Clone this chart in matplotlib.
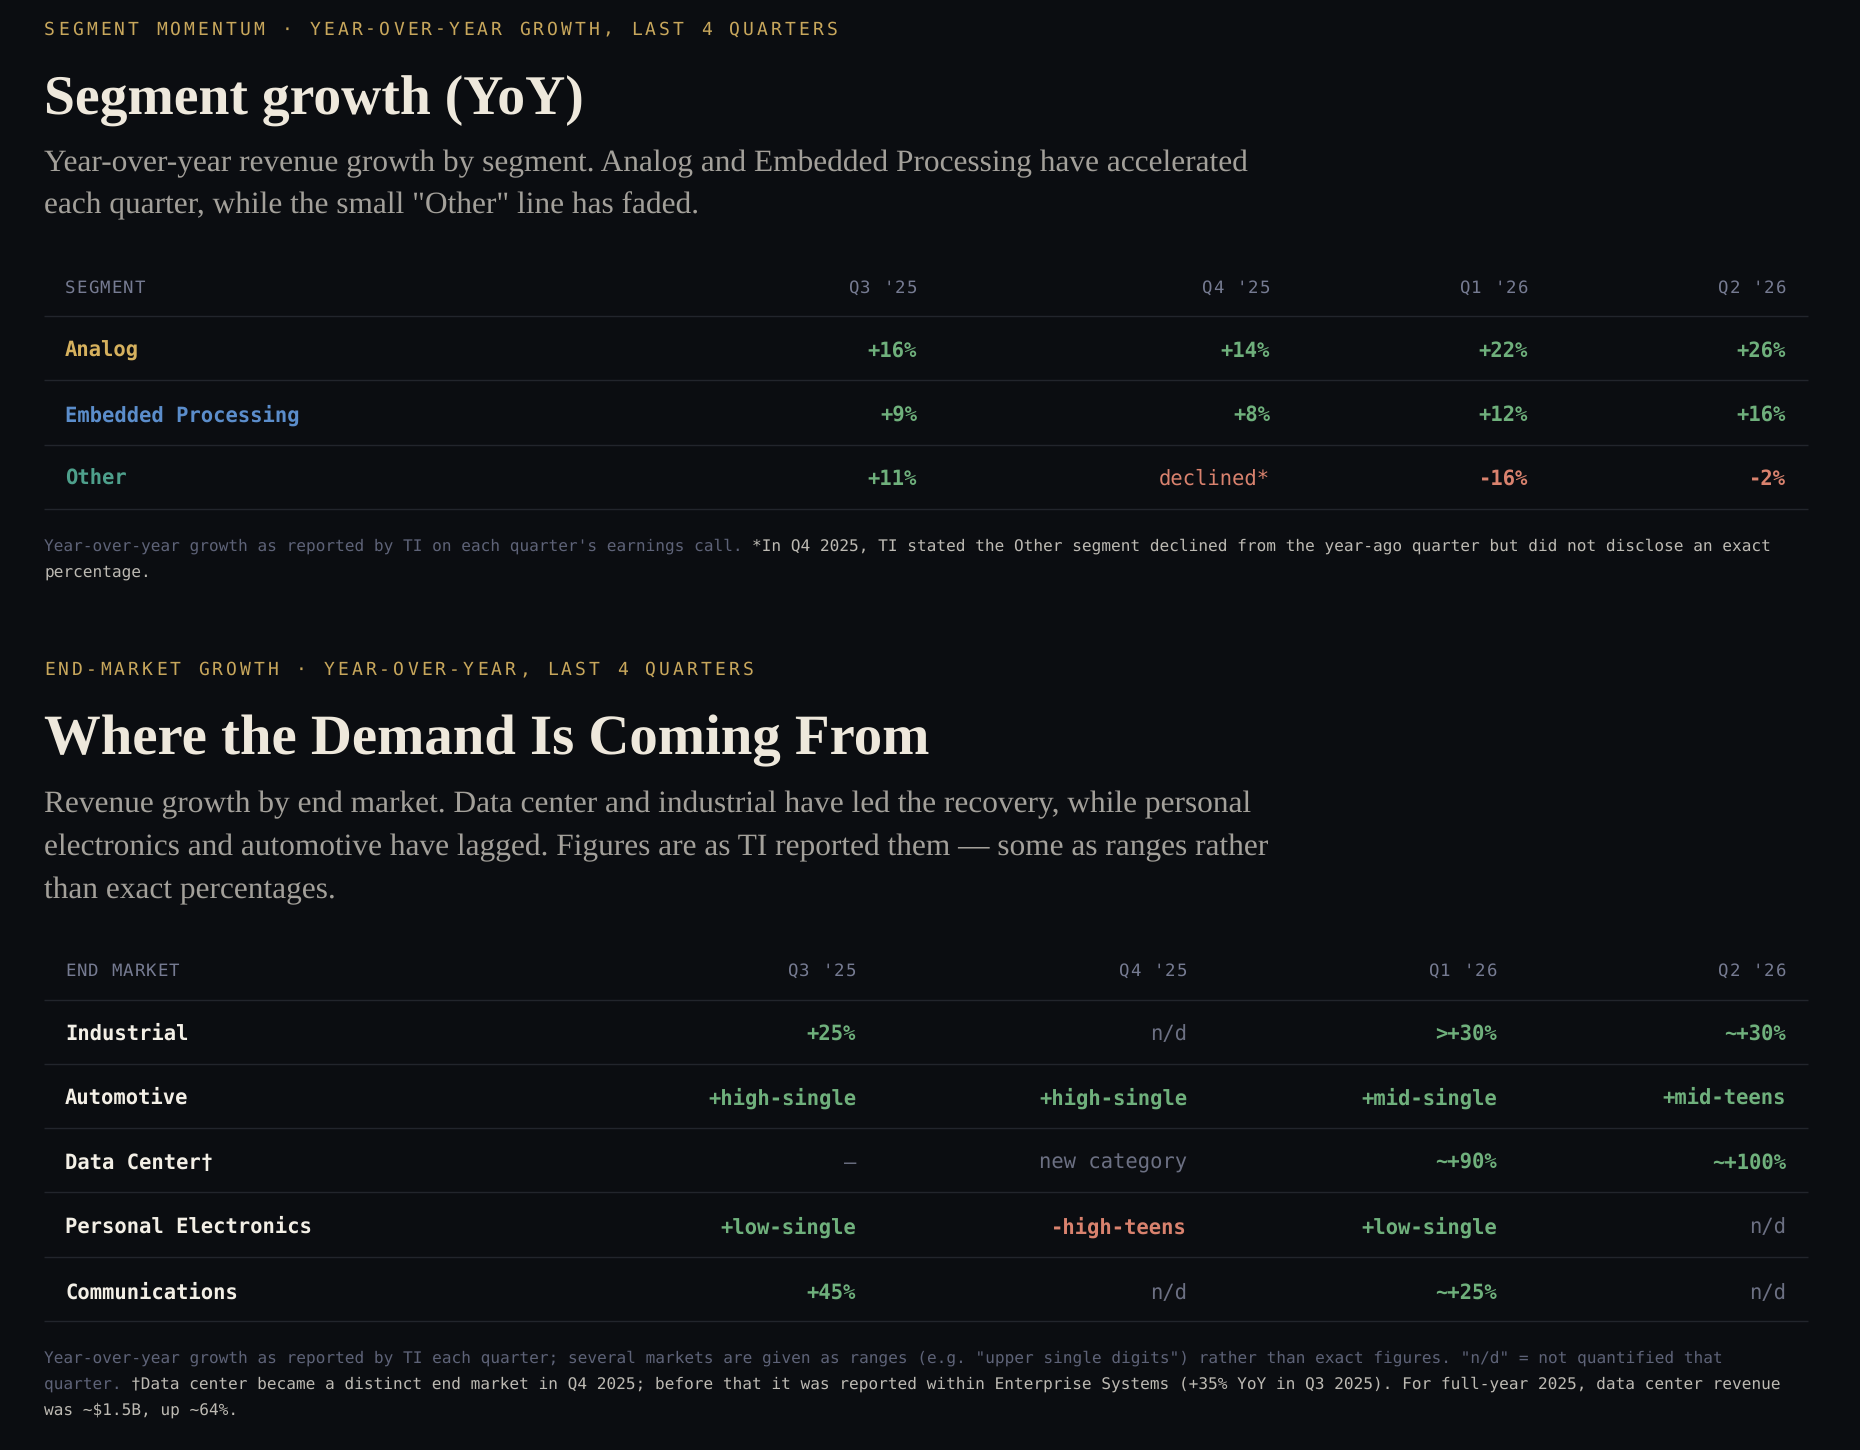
import matplotlib
matplotlib.use("Agg")
import matplotlib.pyplot as plt

# unhinted glyphs keep the monospace advance exact, so mixed-colour lines join up
plt.rcParams["text.hinting"] = "no_hinting"

W, H, DPI = 1860, 1450, 100
BG = "#0b0d11"
GOLD = "#c8a75c"
TITLE_C = "#eee8dc"
SUB_C = "#a3a09a"
HEAD_C = "#767b92"
LINE_C = "#22252c"
GREEN = "#6fb07c"
RED = "#d9826e"
MUTED = "#6c7083"
NOTE_C = "#5e6378"
NOTE_LIGHT = "#bdbab3"
WHITE = "#f3efe6"

MONO = "DejaVu Sans Mono"
SERIF = "Liberation Serif"

# ---- data ----
quarters = ["Q3 '25", "Q4 '25", "Q1 '26", "Q2 '26"]

segments = ["Analog", "Embedded Processing", "Other"]
segment_colors = ["#d6b15e", "#5b8dcb", "#4ea08c"]
analog = ["+16%", "+14%", "+22%", "+26%"]
embedded = ["+9%", "+8%", "+12%", "+16%"]
other = ["+11%", "declined*", "-16%", "-2%"]

markets = ["Industrial", "Automotive", "Data Center\u2020", "Personal Electronics", "Communications"]
industrial = ["+25%", "n/d", ">+30%", "~+30%"]
automotive = ["+high-single", "+high-single", "+mid-single", "+mid-teens"]
data_center = ["\u2014", "new category", "~+90%", "~+100%"]
personal = ["+low-single", "-high-teens", "+low-single", "n/d"]
comms = ["+45%", "n/d", "~+25%", "n/d"]

fig = plt.figure(figsize=(W / DPI, H / DPI), dpi=DPI)
fig.patch.set_facecolor(BG)
ax = fig.add_axes([0, 0, 1, 1])
ax.set_facecolor(BG)
ax.set_xlim(0, W)
ax.set_ylim(H, 0)
ax.axis("off")
renderer = fig.canvas.get_renderer()


def adv(size):
    return size / 72 * DPI * 0.60205


def spaced(x, y, s, size, color, spacing, ha="left", weight="normal"):
    a = adv(size) + spacing
    total = a * len(s) - spacing
    if ha == "right":
        x = x - total
    for i, ch in enumerate(s):
        ax.text(x + i * a + adv(size) / 2, y, ch, fontsize=size, color=color,
                family=MONO, weight=weight, ha="center", va="center")


def fitted(x, y, s, target, size, **kw):
    t = ax.text(x, y, s, fontsize=size, **kw)
    bb = t.get_window_extent(renderer)
    size = size * target / bb.width
    t.set_fontsize(size)
    return size


def note_line(x, y, parts, size):
    for s, c in parts:
        ax.text(x, y, s, fontsize=size, color=c, family=MONO, ha="left", va="center")
        x += adv(size) * len(s)


def cell_style(v):
    if v[0] in "+>~":
        return GREEN, "bold"
    if v.startswith("-"):
        return RED, "bold"
    if v.startswith("declined"):
        return RED, "normal"
    return MUTED, "normal"


def table(head_y, lines, rows_y, first_head, cols_x, labels, label_colors, rows, label_weight):
    spaced(65, head_y, first_head, 12.5, HEAD_C, 1.1)
    for q, cx in zip(quarters, cols_x):
        spaced(cx, head_y, q, 12.5, HEAD_C, 1.1, ha="right")
    for ly in lines:
        ax.plot([44, 1808], [ly, ly], color=LINE_C, lw=1.0, solid_capstyle="butt")
    for lab, lc, vals, ry in zip(labels, label_colors, rows, rows_y):
        ax.text(65, ry, lab, fontsize=14.8, color=lc, family=MONO, weight=label_weight,
                ha="left", va="center")
        for v, cx in zip(vals, cols_x):
            c, w = cell_style(v)
            ax.text(cx, ry, v, fontsize=14.8, color=c, family=MONO, weight=w,
                    ha="right", va="center")


# ---- section 1 ----
spaced(44, 29.5, "SEGMENT MOMENTUM \u00b7 YEAR-OVER-YEAR GROWTH, LAST 4 QUARTERS", 13, GOLD, 3.1)
fitted(44, 115, "Segment growth (YoY)", 540, 40, color=TITLE_C, family=SERIF,
       weight="bold", va="baseline")
ssize = fitted(44, 171, "Year-over-year revenue growth by segment. Analog and Embedded Processing have accelerated",
               1203, 22, color=SUB_C, family=SERIF, va="baseline")
ax.text(44, 213, "each quarter, while the small \"Other\" line has faded.", fontsize=ssize,
        color=SUB_C, family=SERIF, va="baseline")

table(288.5, [315.5, 379.6, 444.8, 509], [351, 415, 479], "SEGMENT",
      [917, 1270, 1528, 1786], segments, segment_colors, [analog, embedded, other], "bold")

fn = 11.6
note_line(44, 546.5, [("Year-over-year growth as reported by TI on each quarter's earnings call. ", NOTE_C),
                      ("*In Q4 2025, TI stated the Other segment declined from the year-ago quarter but did not disclose an exact", NOTE_LIGHT)], fn)
note_line(44, 572.5, [("percentage.", NOTE_LIGHT)], fn)

# ---- section 2 ----
spaced(44, 670, "END-MARKET GROWTH \u00b7 YEAR-OVER-YEAR, LAST 4 QUARTERS", 13, GOLD, 3.1)
fitted(44, 754, "Where the Demand Is Coming From", 885, 40, color=TITLE_C,
       family=SERIF, weight="bold", va="baseline")
sub2 = ["Revenue growth by end market. Data center and industrial have led the recovery, while personal",
        "electronics and automotive have lagged. Figures are as TI reported them \u2014 some as ranges rather",
        "than exact percentages."]
for i, s in enumerate(sub2):
    ax.text(44, 812 + 43 * i, s, fontsize=ssize, color=SUB_C, family=SERIF, va="baseline")

table(971.5, [1000, 1064, 1128, 1192, 1257, 1321], [1034, 1098, 1163, 1227, 1293], "END MARKET",
      [856, 1187, 1497, 1786], markets, [WHITE] * 5,
      [industrial, automotive, data_center, personal, comms], "bold")

note_line(44, 1358, [("Year-over-year growth as reported by TI each quarter; several markets are given as ranges "
                      "(e.g. \"upper single digits\") rather than exact figures. \"n/d\" = not quantified that", NOTE_C)], fn)
note_line(44, 1384, [("quarter. ", NOTE_C),
                     ("\u2020Data center became a distinct end market in Q4 2025; before that it was reported within "
                      "Enterprise Systems (+35% YoY in Q3 2025). For full-year 2025, data center revenue", NOTE_LIGHT)], fn)
note_line(44, 1410, [("was ~$1.5B, up ~64%.", NOTE_LIGHT)], fn)

fig.savefig("out.png", dpi=DPI, facecolor=BG)
